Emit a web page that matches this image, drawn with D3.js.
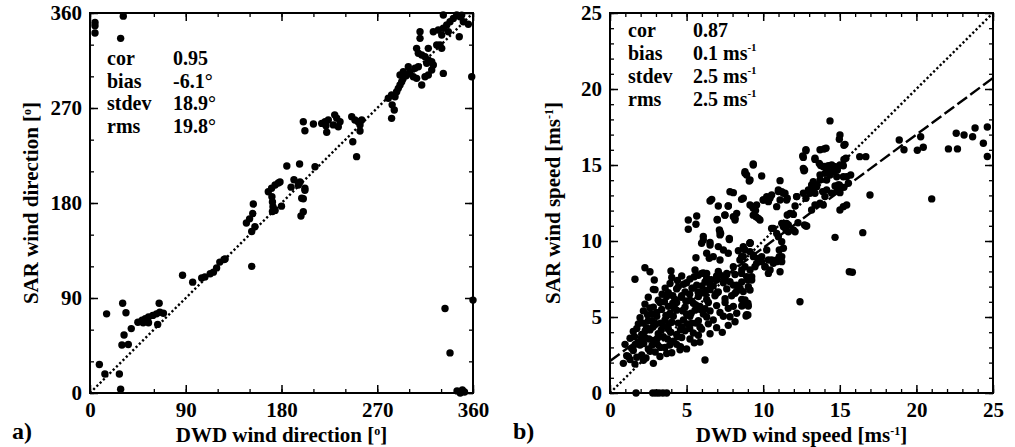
<!DOCTYPE html>
<html><head><meta charset="utf-8">
<script src="https://cdn.jsdelivr.net/npm/d3@7"></script>
<style>
html,body{margin:0;padding:0;background:#fff;}
svg{display:block;}
text{font-family:"Liberation Serif","Times New Roman",serif;font-weight:bold;fill:#000;}
</style></head>
<body>
<svg id="chart" width="1015" height="447"></svg>
<script>
// ---------- data ----------
const dirTicks = [0, 90, 180, 270, 360];
const dirMinor = d3.range(0, 361, 30);
const spdTicks = [0, 5, 10, 15, 20, 25];
const spdMinor = d3.range(0, 26, 1);

// panel a: [DWD direction, SAR direction]
const dirPoints = [
 [8.8,27],[14,18],[27.6,18],[28.8,3.5],[15.6,75],[30.7,85],[33.8,76],[32,55],[30,45.5],[36,46],[38.8,61],
 [45,67],[49,69],[52,70.5],[55,72],[59,73.5],[62.5,75],[65.6,76.5],[69,75.5],[50,66.5],[55,66.5],[63.6,65],[65,85],
 [87,111.5],[96.5,105],[105,109],[108,110],[113,113],[116,114.5],[119,118.5],[122,124],[126,126.5],[127,127],
 [152,120],[147,161],[153,170],[153.5,179],[152,153],[155,157.5],[150,165],
 [167.6,190.7],[170.7,194],[174,197],[177,199],[178.6,200],[171,186],[171.5,181],[172,176.5],[171.5,172],[174,173],[180,177],
 [185,215],[197,217],[191.7,202],[195.8,197],[189,195],[202,192],[199,184.5],[200.5,171.7],[198.3,167.7],[211.5,214.4],
 [197.4,200],[202,194],[200.5,184],
 [200.5,257],[202,248.5],[210,254.8],[217.8,255.4],[221,257],[224,258.6],[221.8,253.2],[222.5,247],[228.7,254],
 [230,263.5],[231.9,260.4],[235,257],[233.4,252.3],[246,261.8],[249,258.6],[252,257],[253.8,253.9],[255.4,258.6],
 [253.8,248.2],[247,238],[250.6,223.9],
 [280.4,279.2],[283.5,282.3],[286.7,280.7],[288.3,285.4],[289.8,288.6],[291.4,291.8],[293,294.9],[294.5,298.1],
 [291.4,301.2],[294.5,304.4],[297.7,301.2],[299.2,309.1],[300.8,304.4],[303.9,299.6],[305.5,307.6],[308.6,309.1],
 [307,298.1],[311.8,291.8],[314.9,299.6],[318,301.2],[321.2,306],[316.5,312.3],[314.9,318.6],[318,315.5],
 [311.8,320.2],[308.6,321.8],[307,326.5],[310.2,336],[310.2,342.3],[318,326.5],[321.2,313.9],[322.7,310.7],
 [325.9,329.7],[329,329.7],[330.6,326.5],[322.7,342.3],[327.4,343.9],[330.6,339.2],[332.1,345.5],[335.3,348.6],
 [336.8,342.3],[338.4,351.7],[341.5,354.9],[344.7,358.1],[347.8,356.5],[350.9,351.7],[347.1,337.5],[332.1,302.8],
 [358.8,299.6],[332.1,358.1],[283.5,260.2],[286,268.1],[284,273],[355.6,349.3],[349.4,358],
 [4.7,351],[4.7,348],[4.7,341],[31.3,357],[28.8,336],[333.7,80],[338.4,38],[360,88],[345,2],[348,0],[350,3],[352,1]
];

// panel b: [DWD speed, SAR speed]
const spdPoints = [
 [1.63,7.48],[2.28,8.24],[2.61,7.98],[2.89,7.43],[2.83,6.82],[3.98,8.03],[5.11,10.77],[5.61,11.1],[6.09,10.3],[5.98,9.85],
 [6.53,9.9],[5.61,8.9],[6.48,8.86],[7.0,11.38],[7.5,11.7],[7.72,12.3],[8.16,11.49],[7.18,10.61],[7.18,10.4],[7.07,9.63],
 [7.72,9.19],[7.79,10.1],[8.38,9.36],[8.6,8.09],[9.14,9.85],[9.0,7.43],[9.0,5.9],[9.0,5.13],[8.6,5.72],[8.16,4.69],
 [7.72,5.57],[7.83,5.02],[7.33,3.99],[6.2,2.17],[6.53,12.63],
 [0.87,1.95],[1.31,2.2],[1.63,1.9],[2.18,2.15],[2.83,1.95],
 [1.09,2.45],[1.52,2.8],[2.07,2.5],[2.61,2.75],[3.26,2.4],[4.03,2.65],[4.57,2.85],
 [0.98,3.2],[1.41,2.95],[1.96,3.15],[2.5,2.9],[3.05,3.25],[3.59,3.0],[4.35,3.2],[5.0,2.9],
 [1.31,3.6],[1.85,3.35],[2.28,3.65],[2.83,3.45],[3.48,3.7],[4.13,3.4],[4.68,3.65],[5.22,3.55],[5.77,3.8],[5.87,3.35],
 [1.52,4.05],[2.07,3.85],[2.61,4.15],[3.15,3.9],[3.81,4.2],[4.35,3.85],[4.9,4.1],[5.44,3.95],[5.98,4.2],[6.53,3.9],
 [1.85,4.55],[2.39,4.3],[2.94,4.6],[3.48,4.4],[4.03,4.65],[4.68,4.35],[5.33,4.6],[5.87,4.35],[6.42,4.55],[6.96,4.3],[7.72,4.45],
 [1.96,4.95],[2.5,4.75],[3.05,5.05],[3.59,4.8],[4.13,5.05],[4.79,4.8],[5.22,5.05],[5.77,4.75],[6.31,5.0],[6.74,4.8],[7.4,5.05],
 [2.18,5.4],[2.72,5.2],[3.37,5.5],[3.92,5.25],[4.35,5.45],[5.0,5.2],[5.55,5.45],[6.09,5.2],[6.53,5.4],[7.18,5.3],[8.27,5.25],[8.92,5.15],
 [2.28,5.85],[2.83,5.65],[3.26,5.95],[3.81,5.7],[4.35,5.95],[4.9,5.65],[5.44,5.9],[5.87,5.7],[6.42,5.95],[6.96,5.75],[7.51,5.95],[8.05,5.7],
 [2.5,6.3],[3.15,6.1],[3.7,6.35],[4.24,6.15],[4.68,6.4],[5.22,6.1],[5.77,6.35],[6.31,6.15],[6.85,6.4],[7.51,6.2],[7.94,6.4],[8.6,6.15],
 [2.94,6.8],[3.81,6.6],[4.35,6.85],[4.9,6.65],[5.44,6.9],[5.98,6.6],[6.53,6.8],[7.07,6.65],[7.62,6.85],[8.27,6.7],
 [3.92,7.2],[4.46,7.0],[5.0,7.25],[5.66,7.1],[6.2,7.3],[6.74,7.05],[7.4,7.25],[8.05,7.1],[8.6,7.3],
 [4.03,7.6],[4.68,7.7],[5.22,7.5],[5.77,7.75],[6.31,7.55],[6.96,7.7],[7.51,7.55],[8.16,7.8],
 [5.55,8.1],[6.09,7.9],[7.07,8.0],[7.62,7.8],
 [1.2,2.4],[1.75,2.35],[2.35,2.3],[2.95,2.7],[3.7,2.6],[1.65,3.2],[2.2,3.25],[2.75,3.15],[3.3,3.0],[3.9,3.15],[4.6,3.05],
 [1.6,3.7],[2.05,3.6],[2.55,3.55],[3.1,3.6],[3.75,3.55],[4.4,3.7],[5.5,3.3],[1.75,4.25],[2.3,4.1],[2.8,4.35],[3.35,4.15],
 [3.95,4.0],[4.6,4.15],[5.2,4.25],[2.15,4.6],[2.75,4.75],[3.3,4.6],[3.85,4.55],[4.45,4.6],[5.05,4.55],[5.6,4.6],[2.45,5.15],
 [3.05,5.3],[3.65,5.1],[4.2,5.6],[4.75,5.4],[5.3,5.25],[5.9,5.5],[2.6,5.6],[3.55,6.0],[4.1,5.9],[4.95,6.05],[5.6,5.8],
 [6.2,5.55],[3.4,6.5],[4.1,6.4],[4.65,6.3],[5.2,6.5],[5.75,6.65],[6.25,6.75],[3.6,6.9],[4.8,7.15],[5.35,6.9],[6.0,7.05],
 [4.4,7.4],[5.5,7.65],[6.6,7.45],
 [1.7,0],[2.79,0],[3.0,0],[3.2,0],[3.45,0],[3.7,0],
 [9.79,11.38],[10.55,10.83],[10.88,10.5],[11.32,10.94],[11.64,11.05],[11.97,10.72],[12.84,10.99],[14.69,10.24],[16.5,10.55],
 [15.82,7.94],[12.4,6.0],[9.14,9.85],[8.81,9.41],[8.59,8.97],[9.35,9.08],[9.68,8.86],[9.9,8.64],[10.12,8.31],[10.45,8.09],
 [10.66,8.53],[10.34,8.75],[10.88,8.75],[11.1,7.98],[11.21,8.97],[11.32,9.52],[9.46,8.31],[9.25,7.65],[9.14,6.78],[8.81,6.12],
 [9.03,5.72],[8.88,5.07],[8.49,6.89],[8.7,5.79],
 [14.36,17.9],[14.97,16.69],[15.27,16.3],[12.79,15.94],[13.97,16.05],[14.1,16.1],[12.62,15.5],[13.38,15.37],[15.27,15.37],
 [9.35,15.07],[8.81,14.56],[8.92,14.34],[9.09,13.95],[9.9,14.28],[11.1,13.97],[12.62,14.78],[12.66,14.62],[13.66,15.1],
 [13.93,14.89],[14.14,14.78],[14.47,15.0],[14.69,14.89],[14.84,14.67],[15.01,15.0],[14.58,14.56],[14.36,14.34],[14.8,14.23],
 [14.14,14.01],[13.71,14.01],[13.49,13.68],[13.27,13.36],[13.05,13.14],[12.79,12.81],[15.45,14.23],[15.56,13.8],[15.27,13.53],
 [14.97,13.68],[14.69,13.62],[15.01,13.18],[7.83,13.24],[8.05,13.18],[6.64,12.74],[8.7,12.81],[9.14,12.37],[9.31,12.26],
 [10.0,12.7],[10.23,12.92],[10.44,12.81],[10.55,13.03],[10.88,12.26],[10.99,13.36],[11.21,13.24],[11.42,13.14],[11.57,12.81],
 [12.19,12.92],[7.72,12.3],[7.5,11.71],[8.05,11.6],[8.16,11.38],[9.35,11.7],[9.68,11.49],[7.0,11.42],[7.14,10.72],
 [7.22,10.5],[6.09,10.07],[6.53,9.74],[7.79,10.17],[9.14,9.89],[10.66,10.83],[11.21,11.16],[11.57,11.71],[11.75,11.82],
 [12.08,12.3],[10.99,10.28],[11.21,9.95],[11.05,9.41],[11.05,8.97],[11.21,8.64],[11.49,10.72],[11.64,10.61],[12.08,10.61],
 [12.79,10.99],[15.62,7.98],[10.23,9.41],[10.55,8.75],[9.9,8.97],[9.57,8.53],[10.12,8.31],[10.34,7.87],[10.88,8.64],
 [8.7,9.63],[9.14,9.3],[9.36,8.97],[8.7,8.97],[8.48,8.75],[8.81,8.31],[9.14,8.09],[8.59,7.87],[8.92,7.65],[9.25,7.43],
 [9.03,6.99],[8.7,6.67],[8.27,7.1],[7.83,7.32],[7.62,7.87],[7.18,7.76],[6.96,7.43],[6.53,7.1],[6.31,7.87],[5.98,7.87],
 [8.05,8.31],[7.18,8.75],[6.74,8.97],[6.31,9.19],[7.4,9.41],[6.2,6.56],[6.96,6.56],[8.16,6.56],
 [18.88,16.64],[19.19,16.0],[20.28,16.86],[20.45,16.17],[20.06,15.97],[16.97,13.03],[21.0,12.77],[22.09,16.06],[22.68,16.06],
 [22.6,17.09],[23.11,16.97],[23.67,16.86],[23.83,17.43],[24.37,16.43],[24.63,17.5],[24.63,15.56],[16.3,15.55],[16.7,15.55],
 [15.71,14.34],[15.01,16.97],[15.34,16.36],[9.14,14.01],[8.81,14.45],[9.35,15.0],[12.79,16.0],[12.58,15.6],[12.7,14.67],
 [13.38,15.44],[13.71,16.0],[13.75,14.97],[14.03,14.9],[14.25,14.95],[14.6,14.9],[15.23,14.95],[15.4,15.44],[13.71,14.34],
 [14.03,14.45],[14.25,14.56],[14.9,13.68],[15.23,14.23],[13.27,13.9],[8.59,12.74],[9.57,12.37],[10.99,13.25],[11.32,13.14],
 [11.1,12.7],[10.34,12.59],[10.01,12.7],[11.53,12.7],[12.18,12.92],[12.62,13.14],[12.95,13.36],[13.16,13.68],[13.49,13.57],
 [13.38,13.14],[13.88,13.25],[14.03,12.92],[14.14,13.36],[14.47,13.14],[14.84,13.36],[15.01,13.57],[13.71,12.48],[13.92,12.37],
 [13.38,12.37],[13.16,12.04],[15.01,12.04],[15.23,12.26],[15.45,12.37],[9.35,12.15],[9.53,11.6],[11.97,11.75],[12.7,11.06],
 [12.27,11.2],[11.53,11.16],[5.11,11.38],[5.66,11.64],[7.07,12.3],[8.27,11.82],[9.5,12.0]
];

const dirStatNames = ["cor","bias","stdev","rms"];
const dirStatValues = ["0.95","-6.1°","18.9°","19.8°"];
const spdStatNames = ["cor","bias","stdev","rms"];
const spdStatValues = ["0.87","0.1","2.5","2.5"];
const spdStatUnits = ["", "ms", "ms", "ms"];
const fitLine = {intercept: 2.1, slope: 0.745};

// ---------- drawing ----------
const svg = d3.select("#chart");
const plotTop = 13, plotBottom = 393;

function panel(opts){
  const g = svg.append("g");
  const x = d3.scaleLinear().domain(opts.domain).range([opts.left, opts.right]);
  const y = d3.scaleLinear().domain(opts.domain).range([plotBottom, plotTop]);

  const mk = (axisFn, scale, vals, size, labels) => {
    const a = axisFn(scale).tickValues(vals).tickSize(size).tickSizeOuter(0);
    if(!labels) a.tickFormat("");
    return a;
  };
  const axes = [
    {fn:d3.axisBottom, s:x, t:`translate(0,${plotBottom})`, lab:true},
    {fn:d3.axisTop, s:x, t:`translate(0,${plotTop})`, lab:false},
    {fn:d3.axisLeft, s:y, t:`translate(${opts.left},0)`, lab:true},
    {fn:d3.axisRight, s:y, t:`translate(${opts.right},0)`, lab:false}
  ];
  axes.forEach(A=>{
    const minor = g.append("g").attr("transform",A.t)
      .call(mk(A.fn, A.s, opts.minor, -4, false));
    minor.select(".domain").remove();
    minor.selectAll("line").attr("stroke","#000").attr("stroke-width",1.3);
    const major = g.append("g").attr("transform",A.t)
      .call(mk(A.fn, A.s, opts.major, -8, A.lab).tickPadding(A.fn===d3.axisBottom?9:8));
    major.select(".domain").remove();
    major.selectAll("line").attr("stroke","#000").attr("stroke-width",1.5);
    major.selectAll("text").style("font-family",'"Liberation Serif",serif')
      .style("font-weight","bold").style("font-size","21px").attr("fill","#000");
  });

  g.append("rect").attr("x",opts.left).attr("y",plotTop)
    .attr("width",opts.right-opts.left).attr("height",plotBottom-plotTop)
    .attr("fill","none").attr("stroke","#000").attr("stroke-width",2);

  g.append("line")
    .attr("x1",x(opts.domain[0])).attr("y1",y(opts.domain[0]))
    .attr("x2",x(opts.domain[1])).attr("y2",y(opts.domain[1]))
    .attr("stroke","#000").attr("stroke-width",2.4).attr("stroke-dasharray","2.2,2.4");

  if(opts.fit){
    const f = opts.fit;
    g.append("line")
      .attr("x1",x(0)).attr("y1",y(f.intercept))
      .attr("x2",x(opts.domain[1])).attr("y2",y(f.intercept+f.slope*opts.domain[1]))
      .attr("stroke","#000").attr("stroke-width",2.4).attr("stroke-dasharray","12,4");
  }

  g.append("g").selectAll("circle").data(opts.points).join("circle")
    .attr("cx",d=>x(d[0])).attr("cy",d=>y(d[1])).attr("r",3.7).attr("fill","#000");

  return {g,x,y};
}

panel({left:90,right:473,domain:[0,360],major:dirTicks,minor:dirMinor,points:dirPoints});
panel({left:610,right:993,domain:[0,25],major:spdTicks,minor:spdMinor,points:spdPoints,fit:fitLine});

dirStatNames.forEach((n,i)=>{
  const yy = 65 + i*22.6;
  svg.append("text").attr("x",107).attr("y",yy).style("font-size","20px").text(n);
  svg.append("text").attr("x",173).attr("y",yy).style("font-size","20px").text(dirStatValues[i]);
});
spdStatNames.forEach((n,i)=>{
  const yy = 37 + i*23;
  svg.append("text").attr("x",628).attr("y",yy).style("font-size","20px").text(n);
  const t = svg.append("text").attr("x",693).attr("y",yy).style("font-size","20px");
  t.append("tspan").text(spdStatValues[i] + (spdStatUnits[i] ? " " + spdStatUnits[i] : ""));
  if(spdStatUnits[i]) t.append("tspan").attr("dy",-9).style("font-size","11px").text("-1");
});

function title(x,y,rot,parts){
  const t = svg.append("text").attr("text-anchor","middle").style("font-size","21px")
    .attr("transform",`translate(${x},${y}) rotate(${rot})`);
  parts.forEach(p=>{
    const ts = t.append("tspan").text(p.t);
    if(p.sup) ts.attr("dy",-7).style("font-size","12px");
    if(p.down) ts.attr("dy",7);
  });
}
title(281.5,442,0,[{t:"DWD wind direction ["},{t:"o",sup:true},{t:"]",down:true}]);
title(38,203,-90,[{t:"SAR wind direction ["},{t:"o",sup:true},{t:"]",down:true}]);
title(801.5,442,0,[{t:"DWD wind speed [ms"},{t:"-1",sup:true},{t:"]",down:true}]);
title(560,203,-90,[{t:"SAR wind speed [ms"},{t:"-1",sup:true},{t:"]",down:true}]);

svg.append("text").attr("x",12).attr("y",439).style("font-size","24px").text("a)");
svg.append("text").attr("x",513).attr("y",439).style("font-size","24px").text("b)");
</script>
</body></html>
